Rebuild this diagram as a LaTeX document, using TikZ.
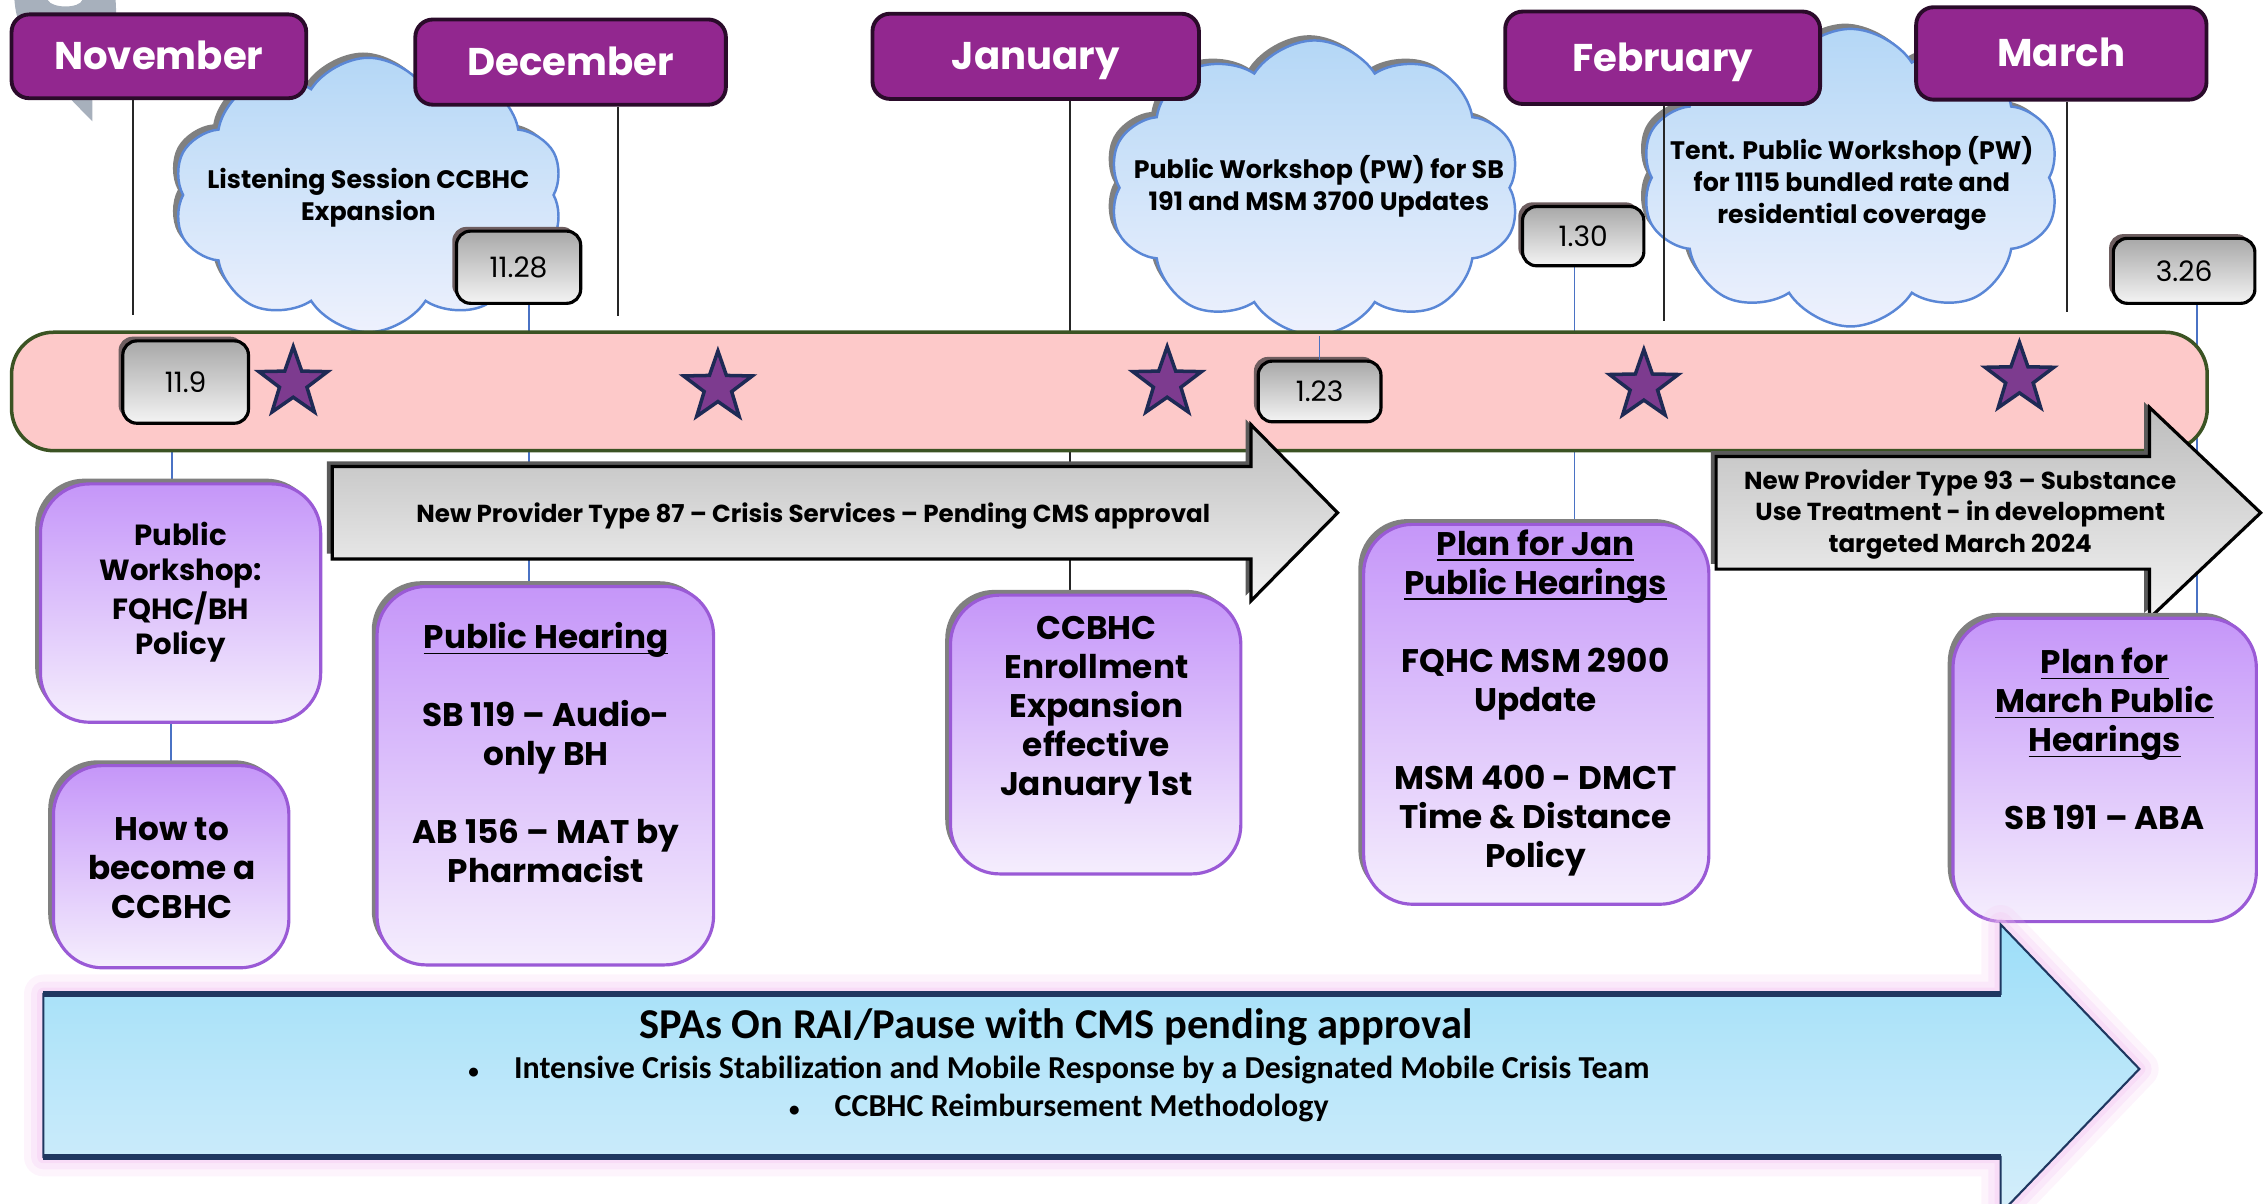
\documentclass[tikz,border=0pt]{standalone}
\usepackage{amsmath}
\usepackage{fontspec}
\setmainfont{Poppins}
\newfontfamily\calfont{Carlito}
\usetikzlibrary{shapes.geometric,shapes.symbols,shadows}

\definecolor{monthfill}{HTML}{92278F}
\definecolor{monthline}{HTML}{2A0B2A}
\definecolor{bandfill}{HTML}{FDC9C9}
\definecolor{bandline}{HTML}{3B5323}
\definecolor{cloudtop}{HTML}{B4D7F6}
\definecolor{cloudbot}{HTML}{EEF1FD}
\definecolor{cloudline}{HTML}{5A87D6}
\definecolor{tagtop}{HTML}{A8A8A8}
\definecolor{tagbot}{HTML}{F4F4F4}
\definecolor{tagshadow}{HTML}{6E5E60}
\definecolor{plantop}{HTML}{C596F9}
\definecolor{planbot}{HTML}{F5EEFD}
\definecolor{planline}{HTML}{9A5AD6}
\definecolor{starfill}{HTML}{7D3B8F}
\definecolor{starline}{HTML}{1E2A55}
\definecolor{arrowtop}{HTML}{BDBDBD}
\definecolor{arrowbot}{HTML}{F3F3F3}
\definecolor{spatop}{HTML}{9CDEF9}
\definecolor{spabot}{HTML}{D5EEFA}
\definecolor{spaline}{HTML}{1F3760}
\definecolor{glow}{HTML}{F3C4F1}
\definecolor{linkblue}{HTML}{4A72C4}
\definecolor{decor}{HTML}{A7B0BC}
\definecolor{shade}{HTML}{808080}

\def\un{0.014445cm}
\newcommand\undl[1]{\underline{\smash[b]{#1}}}
\newcommand\spadot{{\fontsize{6}{6}\selectfont\textbullet}\hspace{1.1em}}

\pgfdeclarelayer{back}
\pgfsetlayers{back,main}

\tikzset{
  wh/.style 2 args={minimum width=#1*\un, minimum height=#2*\un, inner sep=0pt},
  month/.style={draw=monthline, line width=1.1pt, fill=monthfill, rounded corners=5pt,
    text=white, font=\bfseries\fontsize{11}{13}\selectfont, text height=7.7pt, text depth=0pt},
  monthrule/.style={draw=black!85, line width=0.6pt},
  puff/.style={cloud, cloud puffs=10, cloud puff arc=115, cloud ignores aspect,
    draw=cloudline, line width=0.7pt, top color=cloudtop, bottom color=cloudbot,
    drop shadow={shadow xshift=-1.5pt, shadow yshift=1.5pt, fill=shade, opacity=1}},
  puffnote/.style={align=center, font=\bfseries\fontsize{7.2}{9}\selectfont},
  datetag/.style={draw=black, line width=0.9pt, rounded corners=4pt, top color=tagtop,
    bottom color=tagbot, font=\fontsize{8}{9}\selectfont,
    drop shadow={shadow xshift=-1.2pt, shadow yshift=1.2pt, fill=tagshadow, opacity=1}},
  bigstar/.style={star, star points=5, star point ratio=2.5, minimum size=50*\un,
    inner sep=0pt, fill=starfill, draw=starline, line width=1pt},
  plan/.style={draw=planline, line width=0.9pt, rounded corners=14pt, top color=plantop,
    bottom color=planbot,
    drop shadow={shadow xshift=-1.5pt, shadow yshift=1.5pt, fill=shade, opacity=1}},
  plannote/.style={align=center, font=\bfseries\fontsize{9.3}{11.1}\selectfont},
  grayarrow/.style={draw=black, line width=0.9pt, top color=arrowtop, bottom color=arrowbot,
    drop shadow={shadow xshift=-1.5pt, shadow yshift=1.5pt, fill=shade!70!black, opacity=1}},
  arrownote/.style={align=center, font=\bfseries\fontsize{7}{9}\selectfont},
  spabullet/.style={font=\calfont\bfseries\fontsize{9.1}{10}\selectfont},
  haze/.style={draw=glow, line join=round},
  link/.style={draw=linkblue, line width=0.5pt}
}

\begin{document}
\begin{tikzpicture}[x=\un, y=-\un]
\useasboundingbox (0,0) rectangle (1568,833);

% swirl behind November
\fill[decor] (10,0) .. controls (12,30) and (35,55) .. (64,84) -- (64,60)
  .. controls (75,40) and (82,20) .. (80,0) -- (57,0)
  .. controls (55,6) and (36,6) .. (33,0) -- cycle;

% clouds
\path
(255,135) node[puff, wh={270}{190}] (listen) {}
(910,130) node[puff, wh={285}{204}] (pw-sb) {}
(1281,123) node[puff, wh={290}{206}] (pw-rate) {};
\path
(255,137) node[puffnote] (listen-t) {Listening Session CCBHC\\Expansion}
(913,129) node[puffnote] (pw-sb-t) {Public Workshop (PW) for SB\\191 and MSM 3700 Updates}
(1282,127) node[puffnote] (pw-rate-t) {Tent. Public Workshop (PW)\\for 1115 bundled rate and\\residential coverage};

% months
\path
(110,39) node[month, wh={204}{58}] (nov) {November}
(395,43) node[month, wh={215}{59}] (dec) {December}
(717,39) node[month, wh={226}{59}] (jan) {January}
(1151,40) node[month, wh={218}{64}] (feb) {February}
(1427,37) node[month, wh={201}{64}] (mar) {March};

\coordinate (nov-foot) at (92,218);
\coordinate (dec-foot) at (428,219);
\coordinate (feb-foot) at (1152,222);
\coordinate (mar-foot) at (1431,216);
\draw[monthrule] (nov-foot |- nov.south) -- (nov-foot);
\draw[monthrule] (dec-foot |- dec.south) -- (dec-foot);
\draw[monthrule] (feb-foot |- feb.south) -- (feb-foot);
\draw[monthrule] (mar-foot |- mar.south) -- (mar-foot);

% timeline band
\path (768,271) node[draw=bandline, line width=1pt, fill=bandfill, rounded corners=12pt,
  wh={1520}{82}] (band) {};

\foreach \x/\y [count=\i] in {203/265, 497/268, 808/265, 1138/267, 1398/262}
  \path (\x,\y) node[bigstar] (star\i) {};

\path
(128.5,264.5) node[datetag, wh={87}{57}] (d-11-9) {11.9}
(359,185) node[datetag, wh={86}{50}] (d-11-28) {11.28}
(913.5,271) node[datetag, wh={85}{42}] (d-1-23) {1.23}
(1096,163.5) node[datetag, wh={84}{41}] (d-1-30) {1.30}
(1512,187.5) node[datetag, wh={98}{45}] (d-3-26) {3.26};

\draw[link] (d-1-23.north) -- (d-1-23.north |- pw-sb.south);

% provider type arrows
\draw[grayarrow] (230,323) -- (866,323) -- (866,294) -- (926,355) -- (866,416)
  -- (866,387) -- (230,387) -- cycle;
\draw[grayarrow] (1188,316) -- (1488,316) -- (1488,282) -- (1565,355) -- (1488,428)
  -- (1488,394) -- (1188,394) -- cycle;
\path
(563,357) node[arrownote] (pt87) {New Provider Type 87 – Crisis Services – Pending CMS approval}
(1357,356) node[arrownote] (pt93) {New Provider Type 93 – Substance\\Use Treatment - in development\\targeted March 2024};

% hearing and workshop boxes
\path
(125,417.5) node[plan, wh={194}{165}] (pubws) {}
(118.5,600) node[plan, wh={163}{140}] (howto) {}
(377.5,537) node[plan, wh={233}{262}] (pubhear) {}
(758.5,508.5) node[plan, wh={201}{193}] (enroll) {}
(1063.5,494.5) node[plan, wh={239}{263}] (planjan) {}
(1457,533) node[plan, wh={210}{210}] (planmar) {};
\path
(125,410) node[plannote, font=\bfseries\fontsize{8.3}{9.9}\selectfont] (pubws-t)
  {Public\\Workshop:\\FQHC/BH\\Policy}
(119,601) node[plannote] (howto-t) {How to\\become a\\CCBHC}
(378,521) node[plannote] (pubhear-t)
  {\undl{Public Hearing}\\[11.1pt]SB 119 – Audio-\\only BH\\[11.1pt]AB 156 – MAT by\\Pharmacist}
(759,491.5) node[plannote] (enroll-t) {CCBHC\\Enrollment\\Expansion\\effective\\January 1st}
(1063,486.5) node[plannote] (planjan-t)
  {\undl{Plan for Jan}\\\undl{Public Hearings}\\[11.1pt]FQHC MSM 2900\\Update\\[11.1pt]MSM 400 - DMCT\\Time \& Distance\\Policy}
(1457,511.5) node[plannote] (planmar-t)
  {\undl{Plan for}\\\undl{March Public}\\\undl{Hearings}\\[11.1pt]SB 191 – ABA};

% SPA arrow with a soft pink halo
\foreach \w/\o in {11pt/0.18, 7pt/0.25, 3.5pt/0.35}
  \path[haze, line width=\w, draw opacity=\o]
    (30,688) -- (1385,688) -- (1385,640) -- (1481,740) -- (1385,840) -- (1385,801) -- (30,801) -- cycle;
\path[draw=spaline, line width=0.6pt, top color=spatop, bottom color=spabot]
  (30,688) -- (1385,688) -- (1385,640) -- (1481,740) -- (1385,840) -- (1385,801) -- (30,801) -- cycle;
\draw[spaline, line width=1.6pt] (30,688) -- (1385,688) (30,801) -- (1385,801);
\path
(731,711) node[font=\calfont\bfseries\fontsize{12.1}{14}\selectfont] (spa)
  {SPAs On RAI/Pause with CMS pending approval}
(733,741) node[spabullet] (spa-crisis)
  {\spadot Intensive Crisis Stabilization and Mobile Response by a Designated Mobile Crisis Team}
(733,767) node[spabullet] (spa-ccbhc) {\spadot CCBHC Reimbursement Methodology};

% connectors under the band
\coordinate (ws-link) at (119,0);
\coordinate (ph-link) at (366,0);
\coordinate (jan-link) at (741,0);
\coordinate (pj-link) at (1090,0);
\coordinate (pm-link) at (1521,0);
\begin{pgfonlayer}{back}
\draw[link] (ws-link |- d-11-9.south) -- (ws-link |- pubws.north);
\draw[link] (howto.north |- pubws.south) -- (howto.north);
\draw[link] (ph-link |- d-11-28.south) -- (ph-link |- pubhear.north);
\draw[monthrule] (jan-link |- jan.south) -- (jan-link |- enroll.north);
\draw[link] (pj-link |- d-1-30.south) -- (pj-link |- planjan.north);
\draw[link] (pm-link |- d-3-26.south) -- (pm-link |- planmar.north);
\end{pgfonlayer}
\end{tikzpicture}
\end{document}
